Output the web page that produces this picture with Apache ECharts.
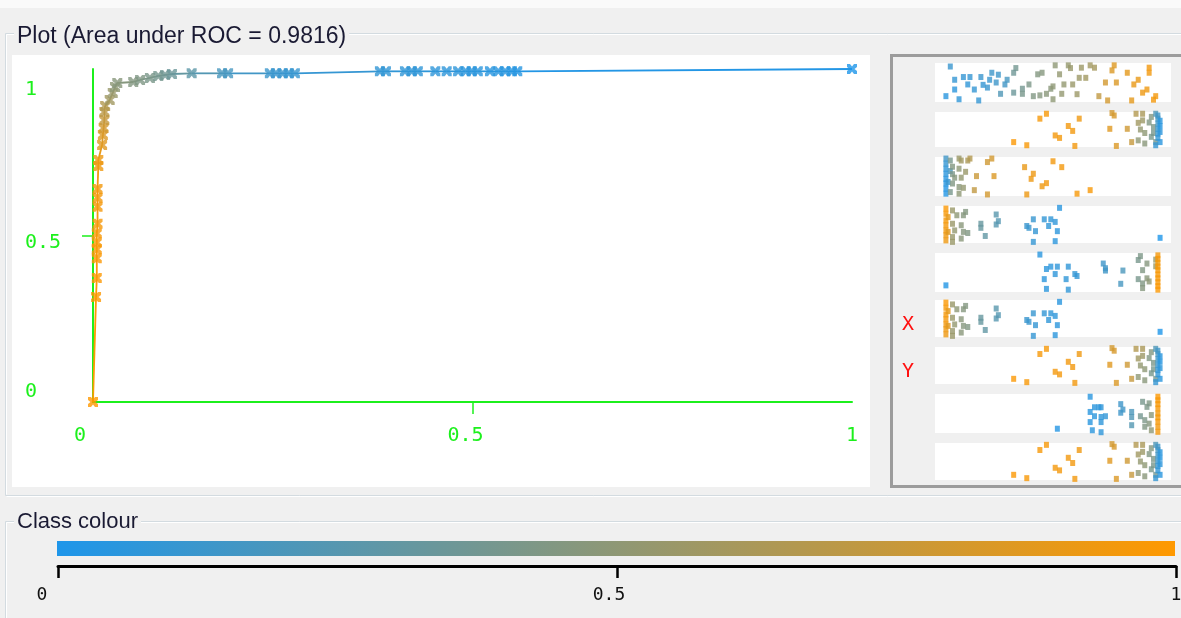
<!DOCTYPE html>
<html>
<head>
<meta charset="utf-8">
<script src="https://cdn.jsdelivr.net/npm/echarts@6/dist/echarts.min.js"></script>
<style>
  html, body { margin: 0; padding: 0; background: #f0f0f0; }
  #chart { width: 1181px; height: 618px; }
</style>
</head>
<body>
<div id="chart"></div>
<script>
// ROC curve points: false positive rate, true positive rate, threshold
const rocFpr = [0, 0.004, 0.005, 0.005, 0.005, 0.005, 0.005, 0.006, 0.006, 0.006, 0.006, 0.007, 0.007,
  0.012, 0.013, 0.014, 0.015, 0.015, 0.016, 0.022, 0.026, 0.029, 0.032,
  0.053, 0.062, 0.075, 0.086, 0.095, 0.104, 0.130, 0.170, 0.178,
  0.233, 0.241, 0.250, 0.258, 0.266,
  0.378, 0.386, 0.411, 0.420, 0.428, 0.451, 0.466, 0.481, 0.491, 0.499, 0.507, 0.523, 0.534, 0.543, 0.552, 0.559,
  1.0];
const rocTpr = [0, 0.315, 0.372, 0.432, 0.459, 0.480, 0.507, 0.535, 0.586, 0.613, 0.640, 0.709, 0.727,
  0.772, 0.802, 0.823, 0.847, 0.871, 0.889, 0.907, 0.928, 0.946, 0.958,
  0.961, 0.967, 0.973, 0.979, 0.982, 0.985, 0.987, 0.987, 0.987,
  0.987, 0.987, 0.987, 0.987, 0.987,
  0.993, 0.993, 0.993, 0.993, 0.993, 0.993, 0.993, 0.993, 0.993, 0.993, 0.993, 0.993, 0.993, 0.993, 0.993, 0.993,
  1.0];
const rocThreshold = [1.0, 0.99, 0.985, 0.98, 0.975, 0.97, 0.965, 0.96, 0.955, 0.95, 0.945, 0.93, 0.92,
  0.86, 0.84, 0.80, 0.74, 0.70, 0.66, 0.58, 0.54, 0.50, 0.47,
  0.45, 0.43, 0.41, 0.39, 0.37, 0.34, 0.28, 0.19, 0.18,
  0.13, 0.12, 0.12, 0.11, 0.11,
  0.09, 0.09, 0.08, 0.08, 0.08, 0.07, 0.07, 0.07, 0.06, 0.06, 0.06, 0.05, 0.05, 0.05, 0.04, 0.04,
  0.0];

const rocXTicks = ['0', '0.5', '1'];
const rocYTicks = ['0', '0.5', '1'];
const colourTicks = ['0', '0.5', '1'];

// Attribute strips: [position, jitter, threshold]
const stripA = [
  [.03,.91,.12],[.05,.57,.10],[.09,.64,.10],[.12,.64,.10],[.17,.64,.12],[.21,.57,.12],[.22,.75,.14],[.25,.70,.14],
  [.29,.57,.18],[.11,.45,.08],[.14,.32,.10],[.18,.44,.10],[.20,.37,.12],[.24,.50,.14],[.28,.45,.16],[.05,.32,.06],
  [.01,.15,.05],[.07,.07,.08],[.16,.04,.10],[.26,.21,.22],
  [.33,.87,.38],[.32,.75,.36],[.43,.71,.45],[.45,.75,.46],[.39,.45,.42],[.32,.24,.34],[.36,.34,.38],[.36,.21,.40],
  [.41,.15,.44],[.44,.17,.46],[.47,.21,.48],[.49,.34,.48],[.50,.40,.50],[.50,.07,.50],[.54,.21,.52],[.55,.45,.52],
  [.59,.45,.55],[.61,.20,.56],[.51,.94,.50],[.57,.94,.53],[.58,.87,.54],[.63,.88,.56],[.67,.94,.58],[.69,.88,.60],
  [.53,.71,.52],[.62,.62,.56],[.65,.62,.58],
  [.78,.94,.85],[.77,.81,.84],[.84,.75,.88],[.94,.88,.94],[.94,.75,.94],[.74,.50,.80],[.79,.50,.84],[.87,.45,.90],
  [.89,.57,.90],[.93,.32,.93],[.91,.24,.92],[.71,.15,.72],[.75,.04,.80],[.86,.04,.88],[.97,.15,.95],[.96,.06,.95]
];
const stripB = [
  [.32,.14,.98],[.38,.05,.97],[.44,.81,.96],[.47,.95,.96],[.51,.33,.95],[.53,.26,.95],[.57,.60,.94],[.59,.46,.94],
  [.60,.03,.94],[.62,.81,.93],[.76,.52,.86],[.78,.90,.82],[.79,.03,.84],[.84,.52,.78],[.86,.14,.74],[.77,.97,.80],
  [.88,.95,.66],[.91,.95,.62],[.89,.69,.58],[.91,.76,.56],[.90,.50,.52],[.92,.40,.50],[.89,.19,.50],[.92,.10,.48],
  [.95,.86,.45],[.96,.57,.42],[.95,.29,.40],[.97,.14,.38],[.94,.70,.44],[.96,.40,.40],
  [.97,.95,.22],[.98,.81,.18],[.98,.67,.15],[.98,.52,.12],[.98,.38,.10],[.98,.26,.08],[.99,.14,.05],[.97,.05,.10],
  [.98,.90,.15],[.99,.43,.06],[.99,.60,.04],[.99,.75,.05]
];
const stripC = [
  [.01,.96,.15],[.01,.83,.10],[.01,.70,.08],[.01,.57,.06],[.01,.44,.05],[.01,.32,.04],[.01,.19,.03],[.01,.06,.02],
  [.02,.36,.12],[.03,.64,.18],
  [.03,.91,.40],[.07,.96,.55],[.08,.91,.58],[.11,.91,.62],[.04,.75,.45],[.07,.70,.50],[.10,.62,.55],[.04,.56,.42],
  [.05,.47,.46],[.08,.47,.52],[.04,.32,.44],[.07,.23,.48],[.09,.21,.52],[.03,.10,.40],[.07,.06,.50],[.12,.96,.66],
  [.14,.15,.72],[.15,.51,.76],[.20,.87,.78],[.22,.96,.80],[.20,.04,.80],[.23,.51,.84],[.37,.74,.90],[.41,.57,.92],
  [.40,.44,.92],[.45,.25,.93],[.47,.33,.94],[.38,.04,.92],[.50,.89,.94],[.54,.74,.95],[.61,.06,.96],[.67,.15,.97]
];
const stripD = [
  [.01,.93,.98],[.01,.79,.97],[.01,.61,.96],[.01,.48,.95],[.01,.34,.94],[.01,.21,.93],[.01,.07,.92],[.02,.70,.88],
  [.02,.30,.86],
  [.04,.88,.55],[.06,.75,.50],[.10,.84,.45],[.09,.75,.46],[.04,.52,.55],[.08,.48,.48],[.05,.34,.52],[.09,.30,.46],
  [.11,.27,.44],[.04,.16,.54],[.08,.12,.48],[.04,.03,.55],
  [.17,.52,.32],[.17,.41,.32],[.19,.19,.30],[.24,.77,.26],[.25,.59,.24],[.24,.50,.25],[.38,.46,.12],[.39,.41,.12],
  [.42,.32,.10],[.41,.64,.11],[.46,.64,.09],[.49,.64,.08],[.48,.46,.08],[.51,.57,.07],[.52,.32,.06],[.53,.95,.05],
  [.51,.05,.06],[.41,.03,.10],[.99,.14,.0]
];
const stripE = [
  [.01,.17,.02],[.44,.96,.05],[.47,.59,.06],[.49,.65,.06],[.52,.65,.07],[.51,.46,.07],[.46,.33,.06],[.47,.08,.06],
  [.56,.33,.08],[.57,.65,.08],[.57,.06,.08],[.60,.46,.09],[.61,.41,.09],[.73,.73,.14],[.74,.61,.15],[.74,.55,.15],
  [.81,.21,.18],[.82,.55,.20],
  [.89,.82,.40],[.90,.92,.42],[.93,.73,.46],[.97,.83,.52],[.97,.66,.55],[.91,.56,.44],[.89,.33,.40],[.91,.22,.44],
  [.93,.35,.48],[.91,.10,.46],[.94,.27,.50],
  [.98,.94,.95],[.98,.85,.96],[.98,.75,.96],[.98,.65,.96],[.98,.56,.96],[.98,.45,.97],[.98,.35,.97],[.98,.25,.97],
  [.98,.15,.98],[.98,.06,.98]
];
const stripF = [
  [.67,.93,.05],[.69,.66,.06],[.71,.66,.06],[.72,.66,.07],[.67,.54,.05],[.69,.43,.06],[.72,.41,.07],[.74,.43,.08],
  [.72,.28,.07],[.67,.28,.05],[.68,.07,.06],[.72,.02,.07],[.52,.11,.03],[.81,.74,.14],[.82,.60,.15],[.81,.52,.14],
  [.86,.54,.20],[.86,.41,.22],[.86,.20,.24],
  [.91,.80,.40],[.94,.76,.44],[.93,.67,.42],[.90,.43,.38],[.92,.33,.42],[.94,.24,.46],[.92,.16,.44],[.95,.07,.50],
  [.95,.46,.48],
  [.98,.93,.98],[.98,.84,.97],[.98,.74,.97],[.98,.63,.97],[.98,.50,.96],[.98,.40,.96],[.98,.29,.96],[.98,.16,.95],
  [.98,.03,.95]
];
// order of the strips from top to bottom
const strips = [stripA, stripB, stripC, stripD, stripE, stripD, stripB, stripF, stripB];
const stripLabels = ['', '', '', '', '', 'X', 'Y', '', ''];

// strip frames (top, height) in the attribute panel
const stripTops = [63, 112, 157, 206, 253, 300, 347, 394, 443];
const stripHeights = [39, 35, 39, 37, 39, 37, 37, 39, 37];

const LOW = [30, 150, 234];
const HIGH = [255, 153, 0];
function classColour(t) {
  t = Math.max(0, Math.min(1, t));
  const c = LOW.map((v, i) => Math.round(v + (HIGH[i] - v) * t));
  return 'rgb(' + c.join(',') + ')';
}

const GREEN = '#1cf01c';
const MONO = '"DejaVu Sans Mono", "Liberation Mono", monospace';
const CROSS = 'path://M0,0 L3,0 L5,2.5 L7,0 L10,0 L10,3 L7.5,5 L10,7 L10,10 L7,10 L5,7.5 L3,10 L0,10 L0,7 L2.5,5 L0,3 Z';

const rocPoints = rocFpr.map((x, i) => [x, rocTpr[i], rocThreshold[i]]);
const rocSegments = [];
for (let i = 0; i < rocPoints.length - 1; i++) {
  rocSegments.push([rocPoints[i][0], rocPoints[i][1], rocPoints[i + 1][0], rocPoints[i + 1][1],
    (rocPoints[i][2] + rocPoints[i + 1][2]) / 2]);
}

const grids = [{ left: 93, top: 69, width: 759, height: 333, outerBoundsMode: 'none' }];
const xAxes = [{
  gridIndex: 0, type: 'value', min: 0, max: 1, interval: 0.5,
  axisLine: { show: true, onZero: false, lineStyle: { color: GREEN, width: 2 } },
  axisTick: { show: true, customValues: [0.5], length: 12, lineStyle: { color: GREEN, width: 1.5 } },
  splitLine: { show: false },
  axisLabel: {
    margin: 24, color: GREEN, fontFamily: MONO, fontSize: 20,
    formatter: v => v === 0 ? '{z|' + rocXTicks[0] + '}' : v === 0.5 ? '{h|' + rocXTicks[1] + '}' : rocXTicks[2],
    rich: { z: { padding: [0, 26, 0, 0] }, h: { padding: [0, 14, 0, 0] } }
  }
}];
const yAxes = [{
  gridIndex: 0, type: 'value', min: 0, max: 1, interval: 0.5,
  axisLine: { show: true, onZero: false, lineStyle: { color: GREEN, width: 2 } },
  axisTick: { show: true, customValues: [0.5], length: 11, lineStyle: { color: GREEN, width: 1.5 } },
  splitLine: { show: false },
  axisLabel: {
    margin: 68, align: 'left', color: GREEN, fontFamily: MONO, fontSize: 20,
    formatter: v => v === 1 ? '{t|' + rocYTicks[2] + '}' : v === 0.5 ? '{m|' + rocYTicks[1] + '}' : '{b|' + rocYTicks[0] + '}',
    rich: { t: { padding: [42, 0, 0, 0] }, m: { padding: [14, 0, 0, 0] }, b: { padding: [0, 0, 20, 0] } }
  }
}];

const series = [
  {
    type: 'custom', xAxisIndex: 0, yAxisIndex: 0, data: rocSegments, clip: false,
    encode: { x: [0, 2], y: [1, 3] },
    renderItem: (params, api) => {
      const p1 = api.coord([api.value(0), api.value(1)]);
      const p2 = api.coord([api.value(2), api.value(3)]);
      return { type: 'line', shape: { x1: p1[0], y1: p1[1], x2: p2[0], y2: p2[1] },
        style: { stroke: classColour(api.value(4)), lineWidth: 1.8 } };
    }
  },
  {
    type: 'scatter', xAxisIndex: 0, yAxisIndex: 0, data: rocPoints, clip: false,
    symbol: CROSS, symbolSize: 10,
    itemStyle: { color: p => classColour(p.data[2]) }
  }
];

strips.forEach((pts, i) => {
  const idx = i + 1;
  grids.push({ left: 935, top: stripTops[i], width: 236, height: stripHeights[i], outerBoundsMode: 'none',
    show: true, backgroundColor: '#ffffff', borderWidth: 0 });
  xAxes.push({ gridIndex: idx, type: 'value', min: -0.04, max: 1.04, show: false });
  yAxes.push({
    gridIndex: idx, type: 'value', min: 0, max: 1, interval: 0.5,
    axisLine: { show: false }, axisTick: { show: false }, splitLine: { show: false },
    axisLabel: {
      show: stripLabels[i] !== '', margin: 27, align: 'center', color: '#ff1010',
      fontFamily: MONO, fontSize: 20,
      formatter: v => v === 0.5 ? '{s|' + stripLabels[i] + '}' : '',
      rich: { s: { padding: [12, 0, 0, 0] } }
    }
  });
  series.push({
    type: 'scatter', xAxisIndex: idx, yAxisIndex: idx, data: pts,
    symbol: 'rect', symbolSize: [5, 6],
    itemStyle: { color: p => classColour(p.data[2]) }
  });
});

// class colour scale
const cb = grids.length;
grids.push({ left: 58, top: 541, width: 1118, height: 25, outerBoundsMode: 'none' });
xAxes.push({
  gridIndex: cb, type: 'value', min: 0, max: 1, interval: 0.5, position: 'bottom',
  axisLine: { show: true, onZero: false, lineStyle: { color: '#000', width: 3 } },
  axisTick: { show: true, length: 12, lineStyle: { color: '#000', width: 2.5 } },
  splitLine: { show: false },
  axisLabel: {
    margin: 20, color: '#111', fontFamily: MONO, fontSize: 18, hideOverlap: false,
    formatter: v => v === 0 ? '{l|' + colourTicks[0] + '}' : v === 0.5 ? '{c|' + colourTicks[1] + '}' : colourTicks[2],
    rich: { l: { padding: [0, 32, 0, 0] }, c: { padding: [0, 16, 0, 0] } }
  }
});
yAxes.push({ gridIndex: cb, type: 'value', min: 0, max: 1, show: false });
series.push({
  type: 'custom', xAxisIndex: cb, yAxisIndex: cb, data: [[0, 1]], clip: false,
  renderItem: (params, api) => {
    const a = api.coord([api.value(0), 1]);
    const b = api.coord([api.value(1), 0.4]);
    return { type: 'rect', shape: { x: a[0] - 1, y: a[1], width: b[0] - a[0], height: b[1] - a[1] },
      style: { fill: new echarts.graphic.LinearGradient(0, 0, 1, 0, [
        { offset: 0, color: classColour(0) }, { offset: 1, color: classColour(1) }]) } };
  }
});

const ETCH = '#d3dbe0';
const line = (x1, y1, x2, y2, c) => ({ type: 'line', silent: true,
  shape: { x1, y1, x2, y2 }, style: { stroke: c || ETCH, lineWidth: 1 } });

const TITLE_FONT = { fontFamily: '"Liberation Sans", Arial, sans-serif', fontWeight: 'normal', color: '#1a1a33' };

const chart = echarts.init(document.getElementById('chart'), null, { renderer: 'canvas' });
chart.setOption({
  animation: false,
  backgroundColor: '#f0f0f0',
  title: [
    { text: 'Plot (Area under ROC = 0.9816)', left: 14, top: 25, padding: [0, 3],
      backgroundColor: '#f0f0f0', textStyle: Object.assign({ fontSize: 23 }, TITLE_FONT) },
    { text: 'Class colour', left: 14, top: 511, padding: [0, 3],
      backgroundColor: '#f0f0f0', textStyle: Object.assign({ fontSize: 22 }, TITLE_FONT) }
  ],
  graphic: [
    { type: 'rect', z: -10, silent: true, shape: { x: 0, y: 0, width: 1181, height: 8 }, style: { fill: '#fafafa' } },
    // etched panel borders
    { type: 'group', z: -5, children: [
      line(5.5, 33.5, 1181, 33.5), line(6.5, 34.5, 1181, 34.5, '#ffffff'),
      line(5.5, 33.5, 5.5, 495.5), line(6.5, 34.5, 6.5, 494.5, '#ffffff'),
      line(5.5, 495.5, 1181, 495.5), line(6.5, 496.5, 1181, 496.5, '#ffffff'),
      line(5.5, 521.5, 1181, 521.5), line(6.5, 522.5, 1181, 522.5, '#ffffff'),
      line(5.5, 521.5, 5.5, 618), line(6.5, 522.5, 6.5, 618, '#ffffff')
    ] },
    { type: 'rect', z: -4, silent: true, shape: { x: 12, y: 55, width: 858, height: 432 }, style: { fill: '#ffffff' } },
    { type: 'rect', z: -4, silent: true, shape: { x: 891.5, y: 55.5, width: 300, height: 431 },
      style: { fill: '#f0f0f0', stroke: '#9c9c9c', lineWidth: 3 } }
  ],
  grid: grids,
  xAxis: xAxes,
  yAxis: yAxes,
  series: series
});
</script>
</body>
</html>
